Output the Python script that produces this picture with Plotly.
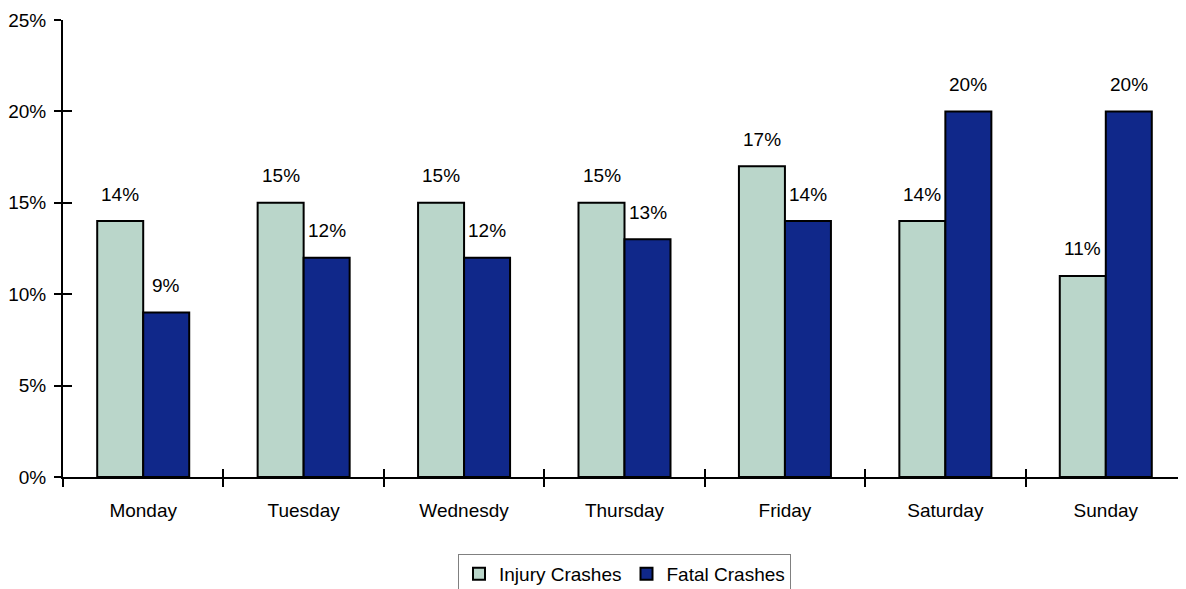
import plotly.graph_objects as go

days = ["Monday", "Tuesday", "Wednesdy", "Thursday", "Friday", "Saturday", "Sunday"]
injury = [14, 15, 15, 15, 17, 14, 11]
fatal = [9, 12, 12, 13, 14, 20, 20]
y_ticks = [0, 5, 10, 15, 20, 25]

INJ_COLOR = "#BAD6CA"
FAT_COLOR = "#10288A"
FONT = dict(family="Liberation Sans, Arial, sans-serif", size=19, color="#000000")

fig = go.Figure()
fig.add_trace(go.Bar(x=days, y=injury, name="Injury Crashes",
                     marker=dict(color=INJ_COLOR, line=dict(color="#000000", width=2))))
fig.add_trace(go.Bar(x=days, y=fatal, name="Fatal Crashes",
                     marker=dict(color=FAT_COLOR, line=dict(color="#000000", width=2))))

annotations = []
for d, v in zip(days, injury):
    annotations.append(dict(x=d, y=v, text=f"{v}%", showarrow=False, xshift=-23, yshift=27,
                            yanchor="middle", font=FONT))
for d, v in zip(days, fatal):
    annotations.append(dict(x=d, y=v, text=f"{v}%", showarrow=False, xshift=23, yshift=27,
                            yanchor="middle", font=FONT))

boundaries = [i - 0.5 for i in range(len(days) + 1)]

fig.update_layout(
    width=1186, height=589,
    margin=dict(l=55, r=8, t=12, b=120, autoexpand=False),
    paper_bgcolor="white", plot_bgcolor="white",
    font=FONT,
    barmode="group", bargap=0.4265, bargroupgap=0,
    showlegend=True,
    legend=dict(orientation="h", x=0.5, xanchor="center", y=-0.1685, yanchor="top",
                bordercolor="#808080", borderwidth=1, font=FONT, bgcolor="white"),
    xaxis=dict(type="category", categoryorder="array", categoryarray=days,
               range=[-0.5, len(days) - 0.5], automargin=False,
               showline=True, linecolor="#000000", linewidth=2,
               ticks="outside", tickson="boundaries", ticklen=8, tickwidth=2, tickcolor="#000000",
               showgrid=False, zeroline=False, tickfont=FONT, ticklabelstandoff=15),
    xaxis2=dict(overlaying="x", anchor="y", side="bottom", range=[-0.5, len(days) - 0.5],
                tickmode="array", tickvals=boundaries, showticklabels=False, automargin=False,
                ticks="inside", ticklen=8, tickwidth=2, tickcolor="#000000",
                showline=False, showgrid=False, zeroline=False),
    yaxis=dict(range=[0, 25], tickmode="array", tickvals=y_ticks,
               ticktext=[f"{t}%" for t in y_ticks], automargin=False,
               showline=True, linecolor="#000000", linewidth=2,
               ticks="outside", ticklen=7, tickwidth=2, tickcolor="#000000",
               showgrid=False, zeroline=False, tickfont=FONT, ticklabelstandoff=4),
    yaxis2=dict(overlaying="y", anchor="x", side="left", range=[0, 25], automargin=False,
                tickmode="array", tickvals=y_ticks, showticklabels=False,
                ticks="inside", ticklen=9, tickwidth=2, tickcolor="#000000",
                showline=False, showgrid=False, zeroline=False),
    annotations=annotations,
)

# invisible helper trace so the overlay tick axes are rendered
fig.add_trace(go.Scatter(x=[0], y=[0], xaxis="x2", yaxis="y2", mode="markers",
                         marker=dict(opacity=0), showlegend=False, hoverinfo="skip"))

fig.write_html("out.html")
